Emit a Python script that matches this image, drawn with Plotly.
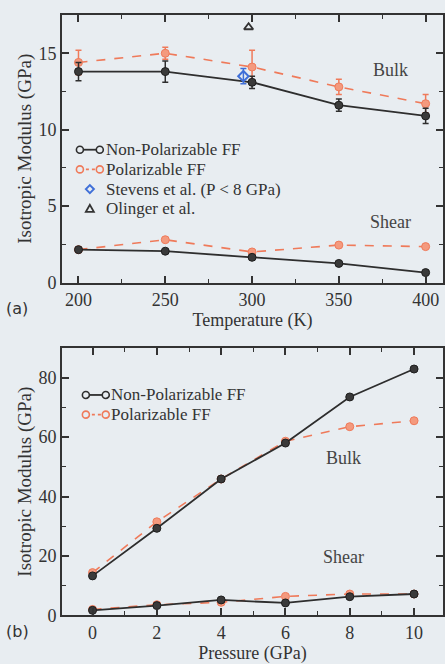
import plotly.graph_objects as go

# ---- Panel (a): modulus vs temperature ----
temperature = [200, 250, 300, 350, 400]
bulk_nonpol = [13.8, 13.8, 13.1, 11.6, 10.9]
bulk_nonpol_err = [0.6, 0.7, 0.4, 0.4, 0.5]
bulk_pol = [14.4, 15.0, 14.1, 12.8, 11.7]
bulk_pol_err = [0.8, 0.4, 1.1, 0.5, 0.6]
shear_nonpol_T = [2.15, 2.05, 1.65, 1.25, 0.65]
shear_pol_T = [2.15, 2.8, 2.0, 2.45, 2.35]
stevens_T = [295]
stevens_val = [13.5]
stevens_err = [0.5]
olinger_T = [298]
olinger_val = [16.7]

# ---- Panel (b): modulus vs pressure ----
pressure = [0, 2, 4, 6, 8, 10]
bulk_nonpol_P = [13.3, 29.3, 45.9, 58.0, 73.5, 82.9]
bulk_pol_P = [14.4, 31.5, 45.9, 58.6, 63.5, 65.5]
shear_nonpol_P = [1.7, 3.3, 5.2, 4.2, 6.3, 7.2]
shear_pol_P = [2.0, 3.6, 4.4, 6.4, 7.2, 7.2]

legend_a = ["Non-Polarizable FF", "Polarizable FF", "Stevens et al. (P < 8 GPa)", "Olinger et al."]
legend_b = ["Non-Polarizable FF", "Polarizable FF"]

DARK = "#2e2e2e"
ORANGE = "#ef7a5a"
ORANGE_FILL = "#f49a7e"
BLUE = "#3f6fd8"
BG = "#e8edf1"
FONT = "Liberation Serif, Times New Roman, serif"
TXT = "#333333"

W, H, ML = 445, 664, 62
PW = W - ML


def px(xp):
    return (xp - ML) / PW


def py(yp):
    return (H - yp) / H


fig = go.Figure()


def dark_trace(x, y, xa, ya, err=None):
    fig.add_trace(go.Scatter(
        x=x, y=y, xaxis=xa, yaxis=ya, mode="lines+markers",
        line=dict(color=DARK, width=1.8),
        marker=dict(symbol="circle", size=8, color="#3a3a3a",
                    line=dict(color="#1e1e1e", width=1)),
        error_y=dict(type="data", array=err, color=DARK, thickness=1.5, width=3)
        if err else None, showlegend=False))


def orange_trace(x, y, xa, ya, err=None):
    fig.add_trace(go.Scatter(
        x=x, y=y, xaxis=xa, yaxis=ya, mode="lines+markers",
        line=dict(color=ORANGE, width=1.6, dash="dash"),
        marker=dict(symbol="circle", size=8, color=ORANGE_FILL,
                    line=dict(color=ORANGE, width=1)),
        error_y=dict(type="data", array=err, color=ORANGE, thickness=1.5, width=3)
        if err else None, showlegend=False))


# Panel (a)
orange_trace(temperature, bulk_pol, "x", "y", err=bulk_pol_err)
dark_trace(temperature, bulk_nonpol, "x", "y", err=bulk_nonpol_err)
orange_trace(temperature, shear_pol_T, "x", "y")
dark_trace(temperature, shear_nonpol_T, "x", "y")
fig.add_trace(go.Scatter(
    x=stevens_T, y=stevens_val, xaxis="x", yaxis="y", mode="markers",
    marker=dict(symbol="diamond-open", size=8, color=BLUE, line=dict(width=2)),
    error_y=dict(type="data", array=stevens_err, color=BLUE, thickness=1.5, width=3),
    showlegend=False))
fig.add_trace(go.Scatter(
    x=olinger_T, y=olinger_val, xaxis="x", yaxis="y", mode="markers",
    marker=dict(symbol="triangle-up-open", size=8, color="#333333", line=dict(width=1.8)),
    showlegend=False))

# Panel (b)
orange_trace(pressure, bulk_pol_P, "x2", "y2")
dark_trace(pressure, bulk_nonpol_P, "x2", "y2")
orange_trace(pressure, shear_pol_P, "x2", "y2")
dark_trace(pressure, shear_nonpol_P, "x2", "y2")

# ---- manual legends (glyphs as shapes, text as annotations) ----
shapes = []
annotations = []


def circle(xc, yc, fill, edge):
    shapes.append(dict(type="circle", xref="paper", yref="paper",
                       xsizemode="pixel", ysizemode="pixel",
                       xanchor=px(xc), yanchor=py(yc),
                       x0=-3.5, x1=3.5, y0=-3.5, y1=3.5,
                       fillcolor=fill, line=dict(color=edge, width=1.6)))


def seg(x0, x1, y, color, dash="solid"):
    shapes.append(dict(type="line", xref="paper", yref="paper",
                       x0=px(x0), x1=px(x1), y0=py(y), y1=py(y),
                       line=dict(color=color, width=1.8, dash=dash)))


def text(xl, y, s, size=17):
    annotations.append(dict(text=s, x=px(xl), y=py(y), xref="paper", yref="paper",
                            xanchor="left", yanchor="middle", showarrow=False,
                            font=dict(family=FONT, size=size, color=TXT)))


def glyph_pair(x0, y, kind):
    if kind == "dark":
        seg(x0, x0 + 20, y, DARK)
        circle(x0, y, BG, DARK)
        circle(x0 + 20, y, BG, DARK)
    else:
        seg(x0, x0 + 20, y, ORANGE, "dot")
        circle(x0, y, BG, ORANGE)
        circle(x0 + 20, y, BG, ORANGE)


# legend (a)
rows_a = [152, 172, 192, 212]
glyph_pair(80, rows_a[0], "dark")
glyph_pair(80, rows_a[1], "orange")
shapes.append(dict(type="path", xref="paper", yref="paper",
                   xsizemode="pixel", ysizemode="pixel",
                   xanchor=px(90), yanchor=py(rows_a[2]),
                   path="M -4 0 L 0 4 L 4 0 L 0 -4 Z",
                   line=dict(color=BLUE, width=2)))
shapes.append(dict(type="path", xref="paper", yref="paper",
                   xsizemode="pixel", ysizemode="pixel",
                   xanchor=px(90), yanchor=py(rows_a[3]),
                   path="M -4 -3 L 4 -3 L 0 4 Z",
                   line=dict(color="#333333", width=1.8)))
for r, s in zip(rows_a, legend_a):
    text(104, r, s)

# legend (b)
rows_b = [401, 421]
glyph_pair(86, rows_b[0], "dark")
glyph_pair(86, rows_b[1], "orange")
for r, s in zip(rows_b, legend_b):
    text(109, r, s)

axis_common = dict(
    showline=True, linecolor="#333333", linewidth=2, mirror="ticks",
    ticks="inside", ticklen=7, tickwidth=1.5, tickcolor="#333333",
    showgrid=False, zeroline=False,
    tickfont=dict(family=FONT, size=18, color=TXT),
)
minor_common = dict(ticks="inside", ticklen=4, tickwidth=1.2, tickcolor="#333333")
title_font = dict(family=FONT, size=18, color=TXT)
ytitle_font = dict(family=FONT, size=19, color=TXT)
lbl_font = dict(family=FONT, size=18, color="#444444")

annotations += [
    dict(text="Bulk", x=380, y=13.9, xref="x", yref="y", showarrow=False, font=lbl_font),
    dict(text="Shear", x=380, y=3.95, xref="x", yref="y", showarrow=False, font=lbl_font),
    dict(text="Bulk", x=7.8, y=53, xref="x2", yref="y2", showarrow=False, font=lbl_font),
    dict(text="Shear", x=7.8, y=19.5, xref="x2", yref="y2", showarrow=False, font=lbl_font),
    dict(text="(a)", x=px(4), y=py(313), xref="paper", yref="paper", showarrow=False,
         xanchor="left", font=dict(family="DejaVu Sans", size=16, color=TXT)),
    dict(text="(b)", x=px(4), y=py(653), xref="paper", yref="paper", showarrow=False,
         xanchor="left", font=dict(family="DejaVu Sans", size=16, color=TXT)),
]

fig.update_layout(
    width=W, height=H,
    margin=dict(l=ML, r=0, t=0, b=0),
    paper_bgcolor=BG, plot_bgcolor=BG,
    font=dict(family=FONT, color=TXT),
    showlegend=False,
    xaxis=dict(axis_common, domain=[0, 1], anchor="y", range=[190.5, 410],
               tickvals=[200, 250, 300, 350, 400], minor=dict(minor_common, dtick=25),
               title=dict(text="Temperature (K)", font=title_font, standoff=0)),
    yaxis=dict(axis_common, domain=[0.568, 0.977], anchor="x", range=[0, 17.5],
               tickvals=[0, 5, 10, 15], minor=dict(minor_common, dtick=2.5),
               title=dict(text="Isotropic Modulus (GPa)", font=ytitle_font, standoff=2)),
    xaxis2=dict(axis_common, domain=[0, 1], anchor="y2", range=[-0.95, 10.9],
                tickvals=[0, 2, 4, 6, 8, 10], minor=dict(minor_common, dtick=1),
                title=dict(text="Pressure (GPa)", font=title_font, standoff=0)),
    yaxis2=dict(axis_common, domain=[0.059, 0.468], anchor="x2", range=[0, 90],
                tickvals=[0, 20, 40, 60, 80], minor=dict(minor_common, dtick=10),
                title=dict(text="Isotropic Modulus (GPa)", font=ytitle_font, standoff=2)),
    shapes=shapes,
    annotations=annotations,
)

fig.write_html("out.html")
